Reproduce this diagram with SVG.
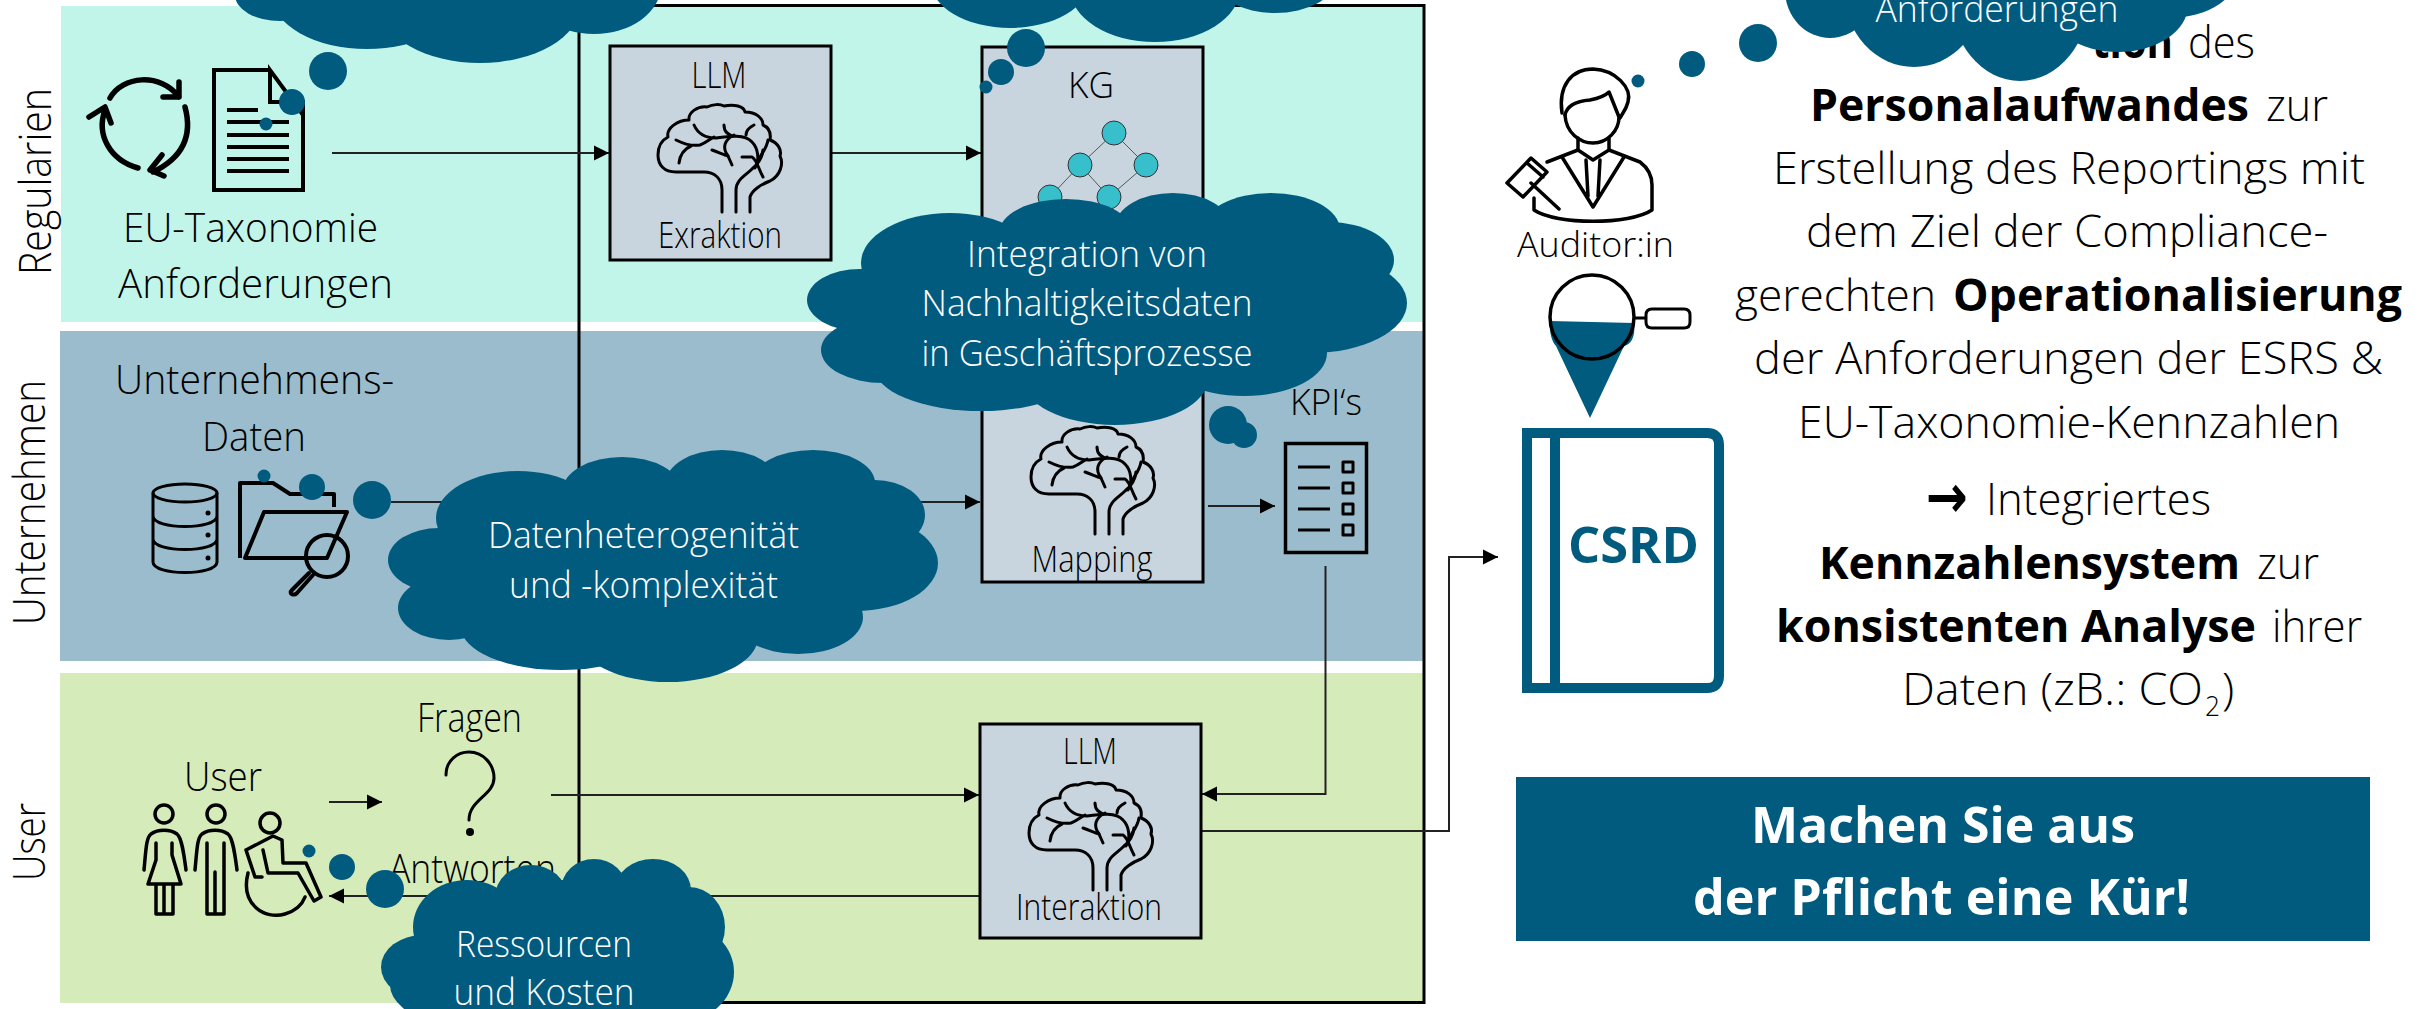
<svg xmlns="http://www.w3.org/2000/svg" xmlns:xlink="http://www.w3.org/1999/xlink" width="2427" height="1009" viewBox="0 0 2427 1009">
<style>
text{font-family:"Open Sans","Noto Sans","Liberation Sans",sans-serif;font-weight:300;fill:#000}
.b{font-weight:700}
.w{fill:#fff}
.t{font-size:36px;text-anchor:middle}
.r{font-size:45px}
.l{font-size:40px}
.box{fill:#c8d5de;stroke:#000;stroke-width:3}
.cl{fill:#005b7f}
.ln{fill:none;stroke:#000;stroke-width:4;stroke-linecap:round;stroke-linejoin:round}
.br{fill:none;stroke:#000;stroke-width:3;stroke-linecap:round;stroke-linejoin:round}
.th{fill:none;stroke:#000;stroke-width:2.5;stroke-linejoin:round}
.conn{fill:none;stroke:#222;stroke-width:2}
.kg{fill:#38bfcc;stroke:#333;stroke-width:1}
.kge{stroke:#555;stroke-width:1;fill:none}
</style>
<defs>
<marker id="ah" markerUnits="userSpaceOnUse" markerWidth="16" markerHeight="16" refX="15" refY="8" orient="auto"><path d="M0,0.5L15,8L0,15.500z" fill="#000"/></marker>
<g id="brain" class="br">
<path d="M722,212V190C722,178 714,172 704,172H676C664,172 658,165 658,155C658,146 662,140 668,137C666,128 678,120 689,120C688,112 698,106 707,107C713,104 720,104 724,106C734,104 744,106 745,112C756,112 763,118 763,125C770,128 771,134 770,140C778,143 782,150 780,156C784,164 780,176 770,181C762,184 752,190 750,197V212"/>
<path d="M736,212V190C736,180 745,176 752,169C757,165 762,160 763,150"/>
<path d="M694,125C698,134 706,138 716,138C730,136 745,134 752,142C758,148 760,160 755,168"/>
<path d="M724,125C724,132 728,134 732,136"/>
<path d="M754,125C748,128 746,132 746,135"/>
<path d="M676,140C684,144 694,146 700,145C706,143 710,139 714,137"/>
<path d="M679,163C680,155 684,149 691,146"/>
<path d="M712,150C718,152 724,155 728,156L732,165"/>
<path d="M728,156C722,148 724,140 734,135"/>
<path d="M742,157H752C757,160 758,168 763,177"/>
<path d="M768,140C767,147 763,152 760,157"/>
</g>
</defs>

<g id="band-regularien"><rect x="61" y="6" width="1362" height="316" fill="#c1f5ea"/>
<text class="r" transform="translate(51,275) rotate(-90)" textLength="187" lengthAdjust="spacingAndGlyphs">Regularien</text></g>
<g id="band-unternehmen"><rect x="60" y="331" width="1363" height="330" fill="#9abccc"/>
<text class="r" transform="translate(45,625) rotate(-90)" textLength="245" lengthAdjust="spacingAndGlyphs">Unternehmen</text></g>
<g id="band-user"><rect x="60" y="673" width="1363" height="330" fill="#d5ebb9"/>
<text class="r" transform="translate(45,881) rotate(-90)" textLength="78" lengthAdjust="spacingAndGlyphs">User</text></g>
<rect id="frame" x="579" y="5.500" width="845" height="997" fill="none" stroke="#000" stroke-width="3"/>

<g id="connectors">
<path class="conn" d="M332,153H609" marker-end="url(#ah)"/>
<path class="conn" d="M831,153H981" marker-end="url(#ah)"/>
<path class="conn" d="M391,502H980" marker-end="url(#ah)"/>
<path class="conn" d="M1208,506H1275" marker-end="url(#ah)"/>
<path class="conn" d="M1325.500,566V794H1202" marker-end="url(#ah)"/>
<path class="conn" d="M551,795H979" marker-end="url(#ah)"/>
<path class="conn" d="M329,802H382" marker-end="url(#ah)"/>
<path class="conn" d="M980,896H329" marker-end="url(#ah)"/>
<path class="conn" d="M1201,831H1449V557H1498" marker-end="url(#ah)"/>
</g>

<g id="eu-taxonomie">
<path class="ln" style="stroke-width:5.500" d="M110,98C122,76 160,72 179,97M179,82V97H163M185,107C194,140 178,160 153,172M162,155L150,170L164,176M138,168C110,160 96,135 105,110M89,117L105,107L111,123"/>
<path class="ln" style="stroke-linecap:butt;stroke-linejoin:miter" d="M270,70H214V190H303V102H270V70L303,115"/>
<path d="M227,110h31M227,122h62M227,135h62M227,147h62M227,159h62M227,171h62" stroke="#000" stroke-width="4"/>
<text class="l" x="123" y="242" textLength="255" lengthAdjust="spacingAndGlyphs">EU-Taxonomie</text>
<text class="l" x="118" y="298" textLength="275" lengthAdjust="spacingAndGlyphs">Anforderungen</text>
</g>
<g id="llm-extraktion"><rect class="box" x="610" y="46" width="221" height="214"/>
<use xlink:href="#brain" href="#brain"/>
<text class="t" x="719" y="88" textLength="55" lengthAdjust="spacingAndGlyphs">LLM</text>
<text class="t" x="720" y="248" textLength="124" lengthAdjust="spacingAndGlyphs">Exraktion</text></g>
<g id="kg"><rect class="box" x="982" y="47" width="221" height="535"/>
<text class="t" x="1091" y="98" textLength="46" lengthAdjust="spacingAndGlyphs">KG</text>
<path class="kge" d="M1114,133L1080,165M1114,133L1146,165M1080,165L1050,197M1080,165L1109,197M1146,165L1109,197"/>
<circle class="kg" cx="1114" cy="133" r="12"/><circle class="kg" cx="1080" cy="165" r="12"/><circle class="kg" cx="1146" cy="165" r="12"/><circle class="kg" cx="1050" cy="197" r="12"/><circle class="kg" cx="1109" cy="197" r="12"/>
<use xlink:href="#brain" href="#brain" transform="translate(373,322)"/>
<text class="t" x="1092" y="572" textLength="121" lengthAdjust="spacingAndGlyphs">Mapping</text></g>
<g id="kpis"><text class="t" x="1326" y="415" textLength="72" lengthAdjust="spacingAndGlyphs">KPI‘s</text>
<rect x="1285.500" y="443.500" width="81" height="109" fill="none" stroke="#000" stroke-width="3.500"/>
<path d="M1298,467h32M1298,488h32M1298,509h32M1298,530h32" stroke="#000" stroke-width="3"/>
<path class="th" style="stroke-width:3" d="M1343,462h10v10h-10zM1343,483h10v10h-10zM1343,504h10v10h-10zM1343,525h10v10h-10z"/></g>
<g id="llm-interaktion"><rect class="box" x="980" y="724" width="221" height="214"/>
<use xlink:href="#brain" href="#brain" transform="translate(371,678)"/>
<text class="t" x="1090" y="764" textLength="54" lengthAdjust="spacingAndGlyphs">LLM</text>
<text class="t" x="1089" y="920" textLength="146" lengthAdjust="spacingAndGlyphs">Interaktion</text></g>

<g id="unternehmensdaten">
<text class="l" x="115" y="394" textLength="279" lengthAdjust="spacingAndGlyphs">Unternehmens-</text>
<text class="l" x="202" y="451" textLength="104" lengthAdjust="spacingAndGlyphs">Daten</text>
<g class="th" style="stroke-width:3"><ellipse cx="185" cy="493" rx="32" ry="9"/><path d="M153,493V562C153,576 217,576 217,562V493M153,516C153,530 217,530 217,516M153,539C153,553 217,553 217,539"/></g>
<circle cx="208" cy="513" r="2.500"/><circle cx="208" cy="535" r="2.500"/><circle cx="208" cy="558" r="2.500"/>
<path class="ln" style="stroke-linecap:butt" d="M240,558V483H273L290,494H334V507M264,512H347L327,558H245z"/>
<circle cx="327" cy="556" r="21" fill="none" stroke="#000" stroke-width="4"/>
<path class="ln" d="M309,573L292,590C288,594 294,596 297,593L313,575"/>
</g>

<g id="user">
<text class="l" x="184" y="791" textLength="78" lengthAdjust="spacingAndGlyphs">User</text>
<g class="ln" style="stroke-width:3.500">
<circle cx="164" cy="814" r="9"/><circle cx="216" cy="814" r="9"/><circle cx="270" cy="823" r="10"/>
<path d="M144,870C146,850 146,838 151,834C158,829 170,829 177,834C182,838 184,855 186,870M156,843V860L148,884H181L172,855V843M156,884V914H173V884M164,884V914"/>
<path d="M195,870C197,850 197,838 202,834C209,829 221,829 228,834C233,838 235,855 237,870M207,843V914H224V843M215,872V914"/>
<path d="M246,850L273,836L282,840L283,863H306L321,897L314,901L298,873H268L263,850M246,850L255,877H262M248,873C240,905 265,920 285,914C295,911 302,905 305,897"/>
</g>
<text class="l" x="417" y="732" textLength="105" lengthAdjust="spacingAndGlyphs">Fragen</text>
<path class="ln" style="stroke-width:3" d="M446,775C446,760 458,752 469,752C484,752 494,765 494,778C494,795 469,800 469,820V820"/>
<circle cx="470" cy="832" r="4"/>
<text class="l" x="389" y="883" textLength="167" lengthAdjust="spacingAndGlyphs">Antworten</text>
</g>

<g id="auditor">
<g class="ln" style="stroke-width:3.500">
<path d="M1578,138V150L1593,160L1609,150V138"/>
<path d="M1562,113C1558,85 1572,69 1593,69C1616,70 1632,88 1628,102C1626,110 1622,114 1620,118"/>
<path d="M1565,115C1567,105 1578,101 1590,100C1600,98 1606,95 1609,92L1619,117"/>
<path d="M1565,115C1566,133 1580,143 1593,143C1608,143 1619,130 1619,117"/>
<path d="M1578,150L1547,162M1609,150L1640,162C1648,168 1652,175 1652,185V210C1630,225 1556,225 1534,210V198"/>
<path d="M1562,157L1593,207L1624,157M1586,160L1588,196M1600,160L1598,196"/>
<path d="M1531,158L1547,172L1523,197L1507,183zM1527,163L1543,177M1531,183L1559,209"/>
</g>
<text x="1517" y="257" style="font-size:34px" textLength="157" lengthAdjust="spacingAndGlyphs">Auditor:in</text>
</g>

<g id="lens">
<path d="M1550,321L1634,323C1636,338 1630,345 1624,346L1590,418L1556,346C1552,342 1549,332 1550,321z" fill="#005b7f"/>
<circle cx="1592" cy="317" r="42" fill="none" stroke="#000" stroke-width="3.500"/>
<path class="th" style="stroke-width:3" d="M1634,318H1646M1652,309H1684Q1690,309 1690,315V322Q1690,328 1684,328H1652Q1646,328 1646,322V315Q1646,309 1652,309z"/>
</g>

<g id="csrd">
<path d="M1527,433H1707Q1719,433 1719,445V676Q1719,688 1707,688H1527z" fill="none" stroke="#005b7f" stroke-width="10"/>
<rect x="1550" y="430" width="10" height="260" fill="#005b7f"/>
<text class="b" x="1568" y="563" style="font-size:50px;fill:#005b7f" textLength="131" lengthAdjust="spacingAndGlyphs">CSRD</text>
</g>

<g id="description" style="font-size:45px">
<text y="58"><tspan class="b" x="2092" textLength="81" lengthAdjust="spacingAndGlyphs">tion</tspan><tspan x="2188" textLength="67" lengthAdjust="spacingAndGlyphs">des</tspan></text>
<text y="121"><tspan class="b" x="1810" textLength="439" lengthAdjust="spacingAndGlyphs">Personalaufwandes</tspan><tspan x="2266" textLength="62" lengthAdjust="spacingAndGlyphs">zur</tspan></text>
<text y="184" x="1773" textLength="592" lengthAdjust="spacingAndGlyphs">Erstellung des Reportings mit</text>
<text y="247" x="1806" textLength="522" lengthAdjust="spacingAndGlyphs">dem Ziel der Compliance-</text>
<text y="311"><tspan x="1735" textLength="201" lengthAdjust="spacingAndGlyphs">gerechten</tspan><tspan class="b" x="1953" textLength="449" lengthAdjust="spacingAndGlyphs">Operationalisierung</tspan></text>
<text y="374" x="1754" textLength="629" lengthAdjust="spacingAndGlyphs">der Anforderungen der ESRS &amp;</text>
<text y="438" x="1798" textLength="542" lengthAdjust="spacingAndGlyphs">EU-Taxonomie-Kennzahlen</text>
<text y="517"><tspan class="b" x="1926" textLength="42" lengthAdjust="spacingAndGlyphs" style="font-family:'DejaVu Sans',sans-serif;font-size:60px">→</tspan><tspan x="1986" y="515" textLength="225" lengthAdjust="spacingAndGlyphs">Integriertes</tspan></text>
<text y="579"><tspan class="b" x="1819" textLength="421" lengthAdjust="spacingAndGlyphs">Kennzahlensystem</tspan><tspan x="2257" textLength="62" lengthAdjust="spacingAndGlyphs">zur</tspan></text>
<text y="642"><tspan class="b" x="1776" textLength="480" lengthAdjust="spacingAndGlyphs">konsistenten Analyse</tspan><tspan x="2272" textLength="90" lengthAdjust="spacingAndGlyphs">ihrer</tspan></text>
<text y="705"><tspan x="1902" textLength="301" lengthAdjust="spacingAndGlyphs">Daten (zB.: CO</tspan><tspan x="2205" y="716" style="font-size:28px" textLength="15" lengthAdjust="spacingAndGlyphs">2</tspan><tspan x="2222" y="705">)</tspan></text>
</g>

<g id="cta"><rect x="1516" y="777" width="854" height="164" fill="#005b7f"/>
<text class="b w" x="1751" y="843" style="font-size:50px" textLength="384" lengthAdjust="spacingAndGlyphs">Machen Sie aus</text>
<text class="b w" x="1693" y="915" style="font-size:50px" textLength="497" lengthAdjust="spacingAndGlyphs">der Pflicht eine Kür!</text></g>

<g id="cloud-top-left" class="cl">
<ellipse cx="280" cy="-5" rx="45" ry="26"/><ellipse cx="367" cy="-5" rx="95" ry="54"/><ellipse cx="480" cy="5" rx="100" ry="58"/><ellipse cx="594" cy="-15" rx="67" ry="49"/>
<circle cx="328" cy="71" r="19"/><circle cx="292" cy="102" r="13"/><circle cx="266" cy="124" r="6.500"/></g>
<g id="cloud-top-center" class="cl">
<ellipse cx="1010" cy="-20" rx="80" ry="48"/><ellipse cx="1155" cy="-12" rx="85" ry="54"/><ellipse cx="1275" cy="-20" rx="60" ry="33"/>
<circle cx="1026" cy="48" r="19"/><circle cx="1001" cy="72" r="13"/><circle cx="986" cy="87" r="6.500"/></g>
<g id="cloud-integration" class="cl">
<ellipse cx="950" cy="263" rx="89" ry="50"/><ellipse cx="860" cy="300" rx="53" ry="31"/><ellipse cx="883" cy="350" rx="62" ry="33"/><ellipse cx="981" cy="367" rx="107" ry="44"/><ellipse cx="1115" cy="377" rx="94" ry="48"/><ellipse cx="1244" cy="353" rx="83" ry="43"/><ellipse cx="1311" cy="303" rx="96" ry="50"/><ellipse cx="1329" cy="260" rx="65" ry="38"/><ellipse cx="1271" cy="230" rx="69" ry="37"/><ellipse cx="1173" cy="227" rx="58" ry="34"/><ellipse cx="1066" cy="233" rx="67" ry="34"/><ellipse cx="1100" cy="300" rx="190" ry="75"/><ellipse cx="905" cy="320" rx="50" ry="30"/>
<circle cx="1228" cy="425" r="19"/><circle cx="1244" cy="435" r="13"/>
<text class="t w" x="1087" y="267" textLength="240" lengthAdjust="spacingAndGlyphs">Integration von</text>
<text class="t w" x="1087" y="316" textLength="331" lengthAdjust="spacingAndGlyphs">Nachhaltigkeitsdaten</text>
<text class="t w" x="1087" y="366" textLength="331" lengthAdjust="spacingAndGlyphs">in Geschäftsprozesse</text></g>
<g id="cloud-daten" class="cl">
<ellipse cx="518" cy="518" rx="82" ry="47"/><ellipse cx="622" cy="490" rx="59" ry="33"/><ellipse cx="722" cy="483" rx="56" ry="33"/><ellipse cx="813" cy="483" rx="62" ry="33"/><ellipse cx="875" cy="515" rx="50" ry="35"/><ellipse cx="856" cy="563" rx="82" ry="48"/><ellipse cx="439" cy="560" rx="51" ry="32"/><ellipse cx="449" cy="608" rx="51" ry="32"/><ellipse cx="561" cy="627" rx="100" ry="43"/><ellipse cx="668" cy="637" rx="90" ry="45"/><ellipse cx="798" cy="617" rx="65" ry="37"/><ellipse cx="660" cy="560" rx="180" ry="70"/><ellipse cx="810" cy="520" rx="60" ry="40"/><ellipse cx="495" cy="585" rx="50" ry="40"/>
<circle cx="372" cy="500" r="19"/><circle cx="312" cy="487" r="13"/><circle cx="264" cy="476" r="6.500"/>
<text class="t w" x="643.500" y="548" textLength="311" lengthAdjust="spacingAndGlyphs">Datenheterogenität</text>
<text class="t w" x="643.500" y="598" textLength="269" lengthAdjust="spacingAndGlyphs">und -komplexität</text></g>
<g id="cloud-ressourcen" class="cl">
<ellipse cx="467" cy="927" rx="54" ry="47"/><ellipse cx="531" cy="897" rx="36" ry="32"/><ellipse cx="594" cy="890" rx="33" ry="31"/><ellipse cx="653" cy="890" rx="38" ry="31"/><ellipse cx="689" cy="927" rx="36" ry="40"/><ellipse cx="684" cy="972" rx="50" ry="47"/><ellipse cx="423" cy="967" rx="42" ry="32"/><ellipse cx="560" cy="985" rx="170" ry="60"/><ellipse cx="565" cy="940" rx="120" ry="60"/>
<circle cx="385" cy="889" r="19"/><circle cx="342" cy="867" r="13"/><circle cx="309" cy="851" r="6.500"/>
<text class="t w" x="544" y="957" textLength="176" lengthAdjust="spacingAndGlyphs">Ressourcen</text>
<text class="t w" x="544" y="1005" textLength="181" lengthAdjust="spacingAndGlyphs">und Kosten</text></g>
<g id="cloud-right" class="cl">
<ellipse cx="1830" cy="-10" rx="45" ry="48"/><ellipse cx="1914" cy="-10" rx="70" ry="77"/><ellipse cx="2020" cy="-5" rx="70" ry="86"/><ellipse cx="2118" cy="5" rx="70" ry="47"/><ellipse cx="2170" cy="-30" rx="70" ry="48"/>
<circle cx="1758" cy="43" r="19"/><circle cx="1692" cy="64" r="13"/><circle cx="1638" cy="81" r="6.500"/>
<text class="t w" x="1997" y="22" textLength="243" lengthAdjust="spacingAndGlyphs">Anforderungen</text></g>
</svg>
